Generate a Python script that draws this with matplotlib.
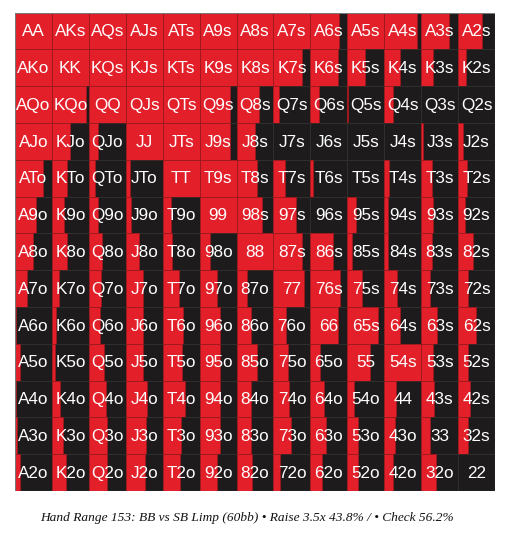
import matplotlib
matplotlib.use("Agg")
import matplotlib.pyplot as plt
from matplotlib.patches import Rectangle

plt.rcParams['font.family'] = ['Liberation Sans', 'DejaVu Sans']

RANKS = ["A", "K", "Q", "J", "T", "9", "8", "7", "6", "5", "4", "3", "2"]

# raise frequency (%) for each row of the grid
raise_A = [100, 100, 100, 100, 100, 100, 100, 100, 78, 100, 89, 76, 66]
raise_K = [100, 100, 100, 100, 100, 100, 100, 77, 76, 48, 43, 32, 22]
raise_Q = [100, 91, 100, 100, 100, 83, 60, 14, 22, 3, 25, 0, 0]
raise_J = [100, 50, 26, 100, 100, 81, 50, 0, 0, 0, 0, 5, 14]
raise_T = [77, 40, 16, 12, 100, 100, 55, 32, 8, 0, 13, 29, 25]
raise_9 = [58, 33, 26, 14, 22, 100, 69, 60, 0, 23, 10, 33, 19]
raise_8 = [50, 40, 36, 36, 26, 29, 100, 77, 62, 14, 9, 29, 40]
raise_7 = [32, 18, 33, 47, 45, 48, 28, 83, 79, 39, 34, 24, 28]
raise_6 = [4, 12, 30, 48, 56, 55, 40, 33, 76, 84, 42, 44, 49]
raise_5 = [14, 8, 40, 48, 52, 55, 55, 40, 26, 61, 100, 33, 28]
raise_4 = [2, 22, 47, 57, 60, 55, 40, 42, 37, 18, 33, 35, 33]
raise_3 = [6, 31, 50, 54, 50, 55, 40, 48, 42, 30, 30, 24, 28]
raise_2 = [14, 38, 50, 52, 47, 48, 41, 17, 31, 30, 25, 40, 0]

grid = [raise_A, raise_K, raise_Q, raise_J, raise_T, raise_9, raise_8,
        raise_7, raise_6, raise_5, raise_4, raise_3, raise_2]

caption = ("Hand Range 153: BB vs SB Limp (60bb) \u2022 Raise 3.5x 43.8% / "
           "\u2022 Check 56.2%")

RED = "#e3202a"
BLACK = "#1d1b1c"


def hand_name(r, c):
    if r == c:
        return RANKS[r] + RANKS[c]
    if c > r:
        return RANKS[r] + RANKS[c] + "s"
    return RANKS[c] + RANKS[r] + "o"


fig = plt.figure(figsize=(5.08, 5.38), dpi=100)
ax = fig.add_axes([15 / 508, 47 / 538, 480 / 508, 478.5 / 538])
ax.set_xlim(0, 13)
ax.set_ylim(13, 0)
ax.axis("off")

for r in range(13):
    for c in range(13):
        frac = grid[r][c] / 100
        ax.add_patch(Rectangle((c, r), 1, 1, facecolor=BLACK,
                               edgecolor="#2a2a2a", linewidth=0.4))
        if frac > 0:
            ax.add_patch(Rectangle((c, r), frac, 1, facecolor=RED,
                                   edgecolor="#a5161c", linewidth=0.5))
        ax.text(c + 0.5, r + 0.52, hand_name(r, c), color="white",
                fontsize=12.3, ha="center", va="center")

ax.add_patch(Rectangle((0, 0), 13, 13, fill=False, edgecolor="#777777",
                       linewidth=0.8))

fig.text(247 / 508, 20 / 538, caption, ha="center", va="center",
         fontsize=9.6, style="italic", family=["Liberation Serif"],
         color="#111111")

fig.savefig("out.png", dpi=100)
